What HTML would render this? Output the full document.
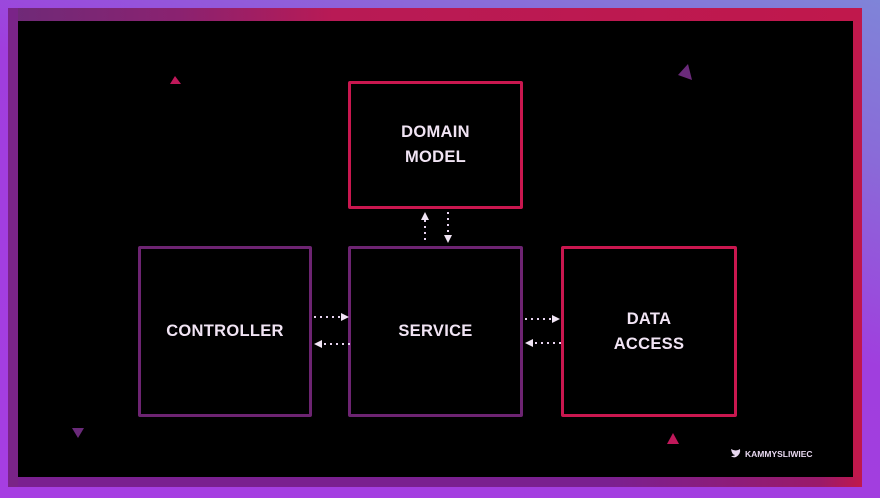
<!DOCTYPE html>
<html><head><meta charset="utf-8"><style>
body{margin:0;width:880px;height:498px;overflow:hidden;background:linear-gradient(20deg,#a63ee2 0%,#a03ede 55%,#8a6ad8 80%,#7f84d8 100%);position:relative;font-family:"Liberation Sans",sans-serif}
.frame{position:absolute;left:8px;top:8px;width:854px;height:479px;background:linear-gradient(90deg,#6e2a78 0%,#8a2270 20%,#b81a55 38%,#c0184c 100%)}
.bot{position:absolute;left:8px;top:477px;width:854px;height:10px;background:linear-gradient(90deg,#7a2090,#7a2090 70%,#9a1a6a 95%,#c0184c)}
.lft{position:absolute;left:8px;top:8px;width:10px;height:479px;background:#7a2488}
.inner{position:absolute;left:18px;top:21px;width:835px;height:456px;background:#000}
.box{position:absolute;border:3px solid #6d2472;box-sizing:border-box;border-radius:2px;color:#f1e4f4;font-weight:bold;font-size:16.5px;display:flex;align-items:center;justify-content:center;text-align:center;line-height:25px;letter-spacing:0.3px}
.red{border-color:#c9174f}
svg{position:absolute;left:0;top:0}
</style></head><body>
<div class="frame"></div>
<div class="bot"></div>
<div class="lft"></div>
<div class="inner"></div>
<div class="box red" style="left:348px;top:81px;width:175px;height:128px">DOMAIN<br>MODEL</div>
<div class="box" style="left:138px;top:246px;width:174px;height:171px">CONTROLLER</div>
<div class="box" style="left:348px;top:246px;width:175px;height:171px">SERVICE</div>
<div class="box red" style="left:561px;top:246px;width:176px;height:171px">DATA<br>ACCESS</div>
<svg width="880" height="498">
<g stroke="#e8d4f0" stroke-width="2" stroke-dasharray="2 4" fill="none">
<line x1="425" y1="220" x2="425" y2="243"/>
<line x1="448" y1="212" x2="448" y2="235"/>
<line x1="314" y1="317" x2="340" y2="317"/>
<line x1="324" y1="344" x2="350" y2="344"/>
<line x1="525" y1="319" x2="551" y2="319"/>
<line x1="535" y1="343" x2="561" y2="343"/>
</g>
<g fill="#f0e4f4">
<polygon points="425,212 421,220 429,220"/>
<polygon points="448,243 444,235 452,235"/>
<polygon points="349,317 341,313 341,321"/>
<polygon points="314,344 322,340 322,348"/>
<polygon points="560,319 552,315 552,323"/>
<polygon points="525,343 533,339 533,347"/>
</g>
<polygon points="175,76 170,84 181,84" fill="#c0185a"/>
<polygon points="688,64 678,75 692,80" fill="#6a2a7a"/>
<polygon points="72,428 84,428 78,438" fill="#6a2a7a"/>
<polygon points="673,433 667,444 679,444" fill="#c0185a"/>
<path d="M731,449 q5,3 9,0 q1,5 -4,8 q-3,1 -5,-1 q3,0 4,-1 q-3,0 -4,-6z" fill="#e8d8f0"/>
<text x="745" y="457" fill="#e8d8f0" font-size="8.5" font-family="Liberation Sans" font-weight="bold">KAMMYSLIWIEC</text>
</svg>
</body></html>
